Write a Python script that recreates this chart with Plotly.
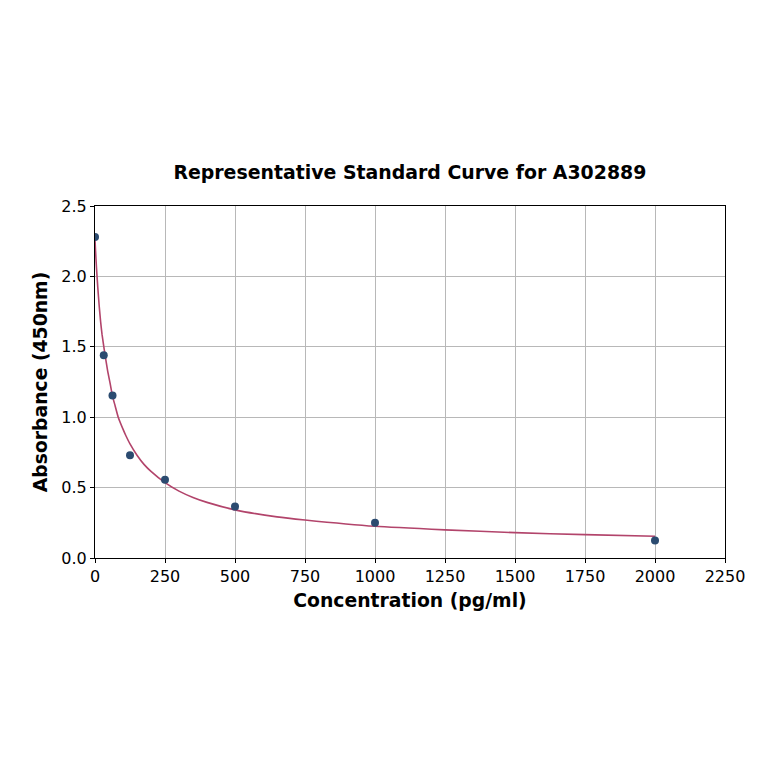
import plotly.graph_objects as go

# 标准品浓度与吸光度
conc = [0, 31.25, 62.5, 125, 250, 500, 1000, 2000]
absorb = [2.28, 1.44, 1.155, 0.73, 0.555, 0.365, 0.25, 0.125]

# 拟合曲线
fit_x = [0, 2, 5, 10, 15, 20, 25, 33, 45, 55, 62.5, 72, 83, 100, 110, 125,
         150, 175, 200, 250, 300, 350, 400, 500, 650, 750, 1000, 1250,
         1500, 1750, 2000]
fit_y = [2.26, 2.18, 2.07, 1.92, 1.79, 1.68, 1.59, 1.48, 1.33, 1.23, 1.15,
         1.08, 1.00, 0.915, 0.87, 0.81, 0.73, 0.665, 0.615, 0.535, 0.475,
         0.43, 0.395, 0.342, 0.292, 0.27, 0.225, 0.2, 0.18, 0.166, 0.155]

x_ticks = [0, 250, 500, 750, 1000, 1250, 1500, 1750, 2000, 2250]
y_ticks = [0.0, 0.5, 1.0, 1.5, 2.0, 2.5]

FONT = "DejaVu Sans"

fig = go.Figure()
fig.add_trace(go.Scatter(
    x=fit_x, y=fit_y, mode="lines",
    line=dict(color="#b2446b", width=1.6, shape="spline", smoothing=0.5),
    hoverinfo="skip", showlegend=False,
))
fig.add_trace(go.Scatter(
    x=conc, y=absorb, mode="markers",
    marker=dict(color="#2b4b70", size=8),
    showlegend=False,
))

axis_common = dict(
    showgrid=True, gridcolor="#b8b8b8", gridwidth=1,
    zeroline=False, showline=True, linecolor="black", linewidth=1,
    mirror=True, ticks="outside", ticklen=4, tickcolor="black",
    tickfont=dict(family=FONT, size=16, color="black"),
)

fig.update_layout(
    width=764, height=764,
    paper_bgcolor="white", plot_bgcolor="white",
    margin=dict(l=87, r=47, t=198, b=214),
    title=dict(text="<b>Representative Standard Curve for A302889</b>",
               x=0.526, xanchor="center", y=0.785, yanchor="middle",
               font=dict(family=FONT, size=18.9, color="black")),
    xaxis=dict(range=[0, 2250], tickvals=x_ticks,
               ticktext=[str(v) for v in x_ticks],
               title=dict(text="<b>Concentration (pg/ml)</b>",
                          font=dict(family=FONT, size=18.8, color="black"),
                          standoff=8),
               **axis_common),
    yaxis=dict(range=[0, 2.5], tickvals=y_ticks,
               ticktext=[f"{v:.1f}" for v in y_ticks],
               title=dict(text="<b>Absorbance (450nm)</b>",
                          font=dict(family=FONT, size=18.8, color="black"),
                          standoff=8),
               **axis_common),
)

fig.write_html("out.html")
